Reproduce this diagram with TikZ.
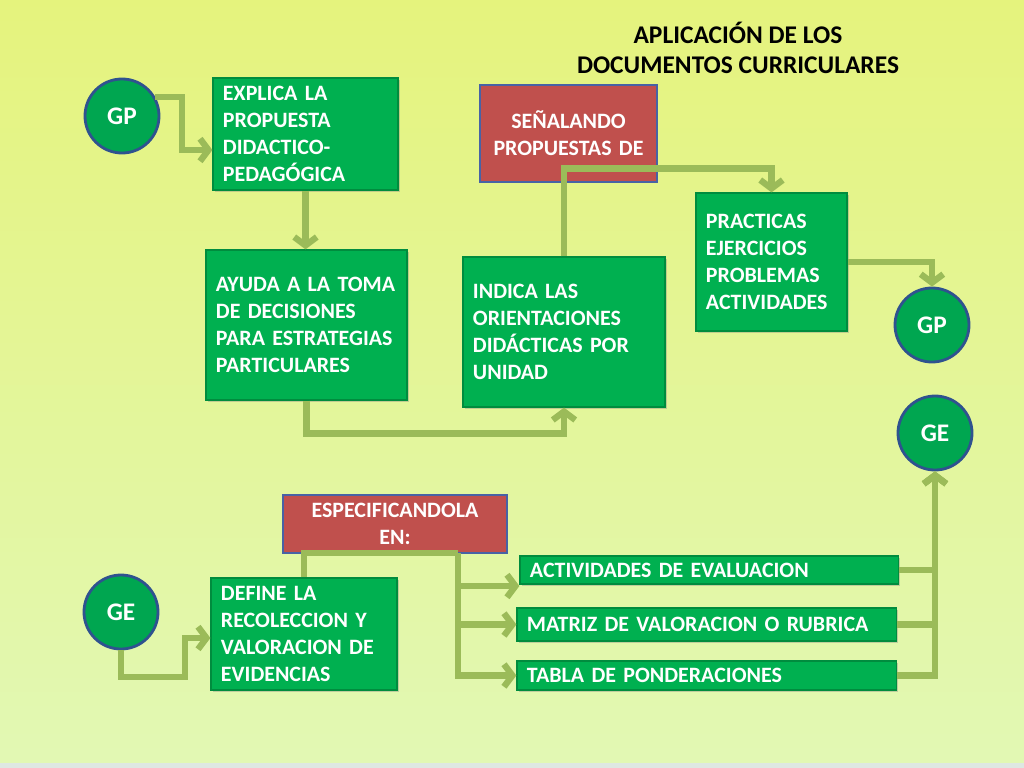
\documentclass[tikz,border=0pt]{standalone}
\usepackage{fontspec}
\setmainfont{Carlito}
\usetikzlibrary{arrows.meta, shadows}

\definecolor{boxgreen}{RGB}{0,176,80}
\definecolor{boxedge}{RGB}{0,140,62}
\definecolor{circgreen}{RGB}{0,166,80}
\definecolor{ringblue}{RGB}{47,82,143}
\definecolor{redbox}{RGB}{192,80,77}
\definecolor{rededge}{RGB}{72,98,165}
\definecolor{linkgreen}{RGB}{155,187,89}
\definecolor{bgtop}{RGB}{229,243,125}
\definecolor{bgbottom}{RGB}{226,248,180}
\definecolor{stripgrey}{RGB}{222,232,226}

\begin{document}
\begin{tikzpicture}[
    x=0.025cm,
    y=-0.025cm,
    >={Straight Barb[length=6pt, width=16pt]},
    font=\fontsize{15.6}{19.2}\selectfont\bfseries,
    greenbox/.style={rectangle, fill=boxgreen, draw=boxedge, line width=0.8pt,
        text=white, align=left, inner xsep=0.25cm, inner ysep=0pt,
        drop shadow={opacity=0.35, shadow xshift=1.5pt, shadow yshift=-1.5pt}},
    redbox/.style={rectangle, fill=redbox, draw=rededge, line width=1.5pt,
        text=white, align=center, inner xsep=0.2cm, inner ysep=0pt},
    role/.style={circle, fill=circgreen, draw=ringblue, line width=2pt,
        text=white, minimum size=1.85cm, inner sep=0pt,
        font=\fontsize{18}{22}\selectfont\bfseries},
    link/.style={draw=linkgreen, line width=4.5pt, ->},
    trunk/.style={draw=linkgreen, line width=4.5pt},
]

    \shade[top color=bgtop, bottom color=bgbottom] (0,0) rectangle (1024,768);
    \fill[stripgrey] (0,763) rectangle (1024,768);

    \node[font=\fontsize{18.1}{21.3}\selectfont\bfseries, align=center] (title) at (738,48)
        {APLICACIÓN DE LOS\\DOCUMENTOS CURRICULARES};

    \node[role] (GP1) at (122,116) {GP};
    \node[role] (GP2) at (932,325) {GP};
    \node[role] (GE1) at (935,433) {GE};
    \node[role] (GE2) at (121,612) {GE};

    \node[greenbox, text width=4.125cm, minimum height=2.8cm] (explica) at (305.5,134)
        {EXPLICA LA\\PROPUESTA\\DIDACTICO-\\PEDAGÓGICA};
    \node[greenbox, text width=4.525cm, minimum height=3.75cm] (ayuda) at (306.5,325)
        {AYUDA A LA TOMA\\DE DECISIONES\\PARA ESTRATEGIAS\\PARTICULARES};
    \node[greenbox, text width=4.55cm, minimum height=3.75cm] (indica) at (564,332)
        {INDICA LAS\\ORIENTACIONES\\DIDÁCTICAS POR\\UNIDAD};
    \node[redbox, text width=4.025cm, minimum height=2.425cm] (senalando) at (568.5,133.5)
        {SEÑALANDO\\PROPUESTAS DE};
    \node[greenbox, text width=3.275cm, minimum height=3.45cm] (practicas) at (771.5,262)
        {PRACTICAS\\EJERCICIOS\\PROBLEMAS\\ACTIVIDADES};

    \node[redbox, text width=5.2cm, minimum height=1.45cm] (especif) at (395,524)
        {ESPECIFICANDOLA\\EN:};
    \node[greenbox, text width=4.15cm, minimum height=2.8cm] (define) at (304,634)
        {DEFINE LA\\RECOLECCION Y\\VALORACION DE\\EVIDENCIAS};
    \node[greenbox, text width=8.95cm, minimum height=0.7cm] (activ) at (709,570)
        {ACTIVIDADES DE EVALUACION};
    \node[greenbox, text width=8.975cm, minimum height=0.825cm] (matriz) at (706.5,624.5)
        {MATRIZ DE VALORACION O RUBRICA};
    \node[greenbox, text width=8.975cm, minimum height=0.725cm] (tabla) at (706.5,675.5)
        {TABLA DE PONDERACIONES};

    \coordinate (split) at (458,553);

    \draw[link] (GP1.30) -- ++(27,0) |- ([yshift=-0.4cm]explica.west);
    \draw[link] (explica.south) -- (explica.south |- ayuda.north);
    \draw[link] (ayuda.south) -- ++(0,33) -| (indica.south);
    \draw[link] (indica.north) -- ++(0,-88) -| (practicas.north);
    \draw[link] (practicas.east) -| (GP2.north);

    \draw[link] (GE2.south) |- (185,677) |- ([yshift=-0.1cm]define.west);
    \draw[trunk] (define.north) |- (split);
    \draw[link] (split) |- ([yshift=-0.4cm]activ.west);
    \draw[link] (split) |- (matriz.west);
    \draw[link] (split) |- (tabla.west);

    \draw[link] (activ.east) -| (GE1.south);
    \draw[link] (matriz.east) -| (GE1.south);
    \draw[link] (tabla.east) -| (GE1.south);
\end{tikzpicture}
\end{document}
